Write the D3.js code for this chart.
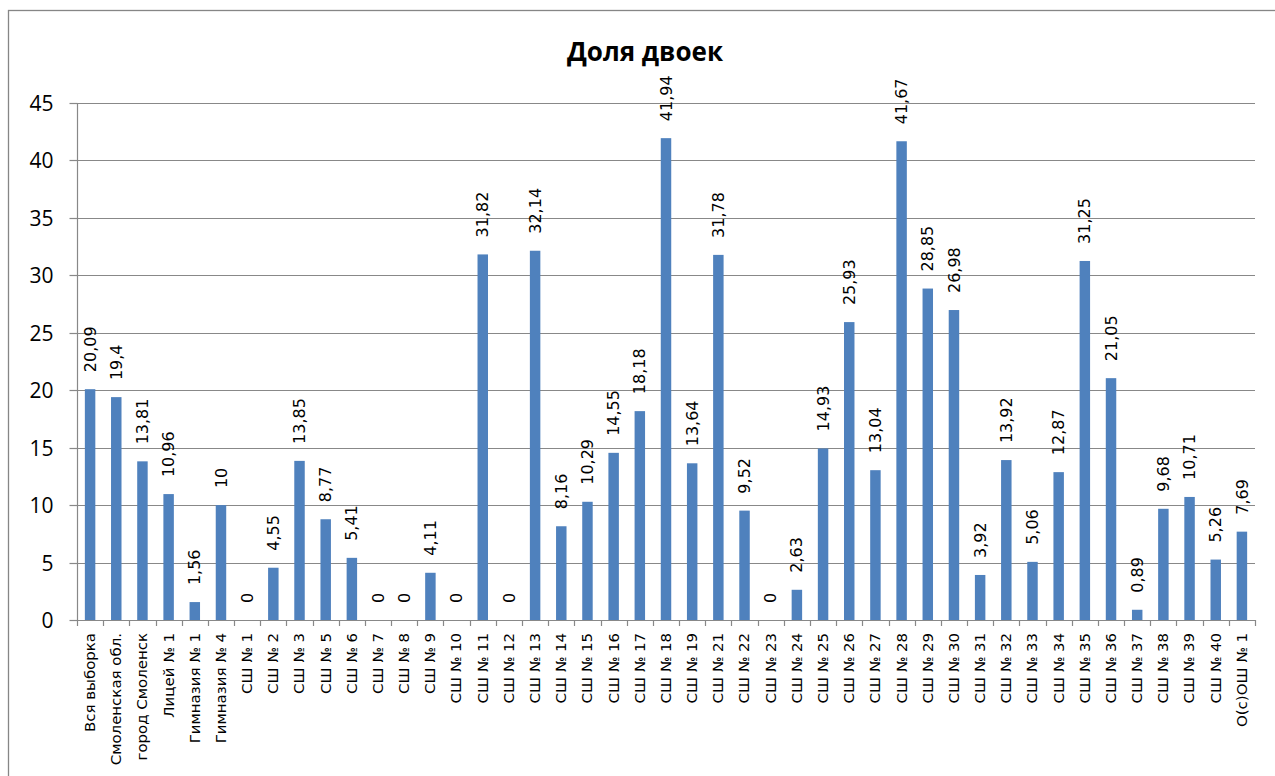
<!DOCTYPE html>
<html><head><meta charset="utf-8">
<script src="https://cdn.jsdelivr.net/npm/d3@7"></script>
<style>body{margin:0;background:#fff}svg{display:block}</style>
</head><body>
<svg id="c" width="1275" height="776"></svg>
<script>
const categories = ["Вся выборка","Смоленская обл.","город Смоленск","Лицей № 1","Гимназия № 1","Гимназия № 4","СШ № 1","СШ № 2","СШ № 3","СШ № 5","СШ № 6","СШ № 7","СШ № 8","СШ № 9","СШ № 10","СШ № 11","СШ № 12","СШ № 13","СШ № 14","СШ № 15","СШ № 16","СШ № 17","СШ № 18","СШ № 19","СШ № 21","СШ № 22","СШ № 23","СШ № 24","СШ № 25","СШ № 26","СШ № 27","СШ № 28","СШ № 29","СШ № 30","СШ № 31","СШ № 32","СШ № 33","СШ № 34","СШ № 35","СШ № 36","СШ № 37","СШ № 38","СШ № 39","СШ № 40","О(с)ОШ № 1"];
const values = [20.09,19.4,13.81,10.96,1.56,10,0,4.55,13.85,8.77,5.41,0,0,4.11,0,31.82,0,32.14,8.16,10.29,14.55,18.18,41.94,13.64,31.78,9.52,0,2.63,14.93,25.93,13.04,41.67,28.85,26.98,3.92,13.92,5.06,12.87,31.25,21.05,0.89,9.68,10.71,5.26,7.69];
const yTicks = [0,5,10,15,20,25,30,35,40,45];
const title = "Доля двоек";

const svg = d3.select("#c");
const L = 77, R = 1255, T = 103, B = 620;
const x = d3.scaleBand().domain(categories).range([L, R]).paddingInner(0.6).paddingOuter(0.3);
const y = d3.scaleLinear().domain([0,45]).range([B, T]);
const gridColor = "#888";
const barColor = "#4F81BD";
const fmt = v => String(v).replace(".", ",");

// outer border
svg.append("rect").attr("x",8.5).attr("y",10.5).attr("width",1280).attr("height",800)
  .attr("fill","none").attr("stroke","#868686").attr("stroke-width",1.3);

// title
svg.append("text").attr("x",645).attr("y",61).attr("text-anchor","middle")
  .attr("font-family","'Open Sans', Lato, sans-serif").attr("font-weight","bold").attr("font-size",26)
  .attr("fill","#000").text(title);

// gridlines
svg.append("g").selectAll("line").data(yTicks.filter(d=>d>0)).join("line")
  .attr("x1",L).attr("x2",R).attr("y1",d=>Math.round(y(d))+0.5).attr("y2",d=>Math.round(y(d))+0.5)
  .attr("stroke",gridColor).attr("stroke-width",1.2);

// y axis
const ya = svg.append("g").attr("transform",`translate(${L+0.5},0)`)
  .call(d3.axisLeft(y).tickValues(yTicks).tickSize(8).tickPadding(16).tickFormat(d=>d));
ya.select(".domain").attr("stroke",gridColor).attr("stroke-width",1.2).attr("d",`M0,${T}V${B}`);
ya.selectAll(".tick line").attr("stroke",gridColor).attr("stroke-width",1.2);
ya.selectAll(".tick").attr("transform",d=>`translate(0,${Math.round(y(d))+0.5})`);
ya.selectAll(".tick text").attr("font-family","'Open Sans', Lato, sans-serif").attr("font-size",21).attr("fill","#000").attr("dy","0.35em");

// bars
svg.append("g").selectAll("rect").data(values).join("rect")
  .attr("x",(d,i)=>x(categories[i])).attr("width",x.bandwidth())
  .attr("y",d=>y(d)).attr("height",d=>B-y(d)).attr("fill",barColor);

// x axis
svg.append("line").attr("x1",L).attr("x2",R).attr("y1",B+0.5).attr("y2",B+0.5).attr("stroke",gridColor).attr("stroke-width",1.2);
const bounds = d3.range(categories.length+1).map(i => L + i*(R-L)/categories.length);
svg.append("g").selectAll("line").data(bounds).join("line")
  .attr("x1",d=>Math.round(d)+0.5).attr("x2",d=>Math.round(d)+0.5).attr("y1",B).attr("y2",B+6)
  .attr("stroke",gridColor).attr("stroke-width",1.2);

// category labels
const catLabels = svg.append("g").selectAll("text").data(categories).join("text")
  .attr("text-anchor","end").attr("dy","0.35em")
  .attr("font-family","'DejaVu Sans', sans-serif").attr("font-size",14).attr("fill","#000")
  .text(d=>d);
const refLen = catLabels.nodes()[0].getComputedTextLength();
const sx = refLen > 0 ? 99 / refLen : 1;
catLabels.attr("transform",d=>`translate(${x(d)+x.bandwidth()/2},${B+13}) rotate(-90) scale(${sx},1)`);

// value labels
svg.append("g").selectAll("text").data(values).join("text")
  .attr("transform",(d,i)=>`translate(${x(categories[i])+x.bandwidth()/2},${y(d)-17}) rotate(-90)`)
  .attr("text-anchor","start").attr("dy","0.35em")
  .attr("font-family","'DejaVu Sans', sans-serif").attr("font-size",16).attr("fill","#000")
  .text(d=>fmt(d));
</script>
</body></html>
